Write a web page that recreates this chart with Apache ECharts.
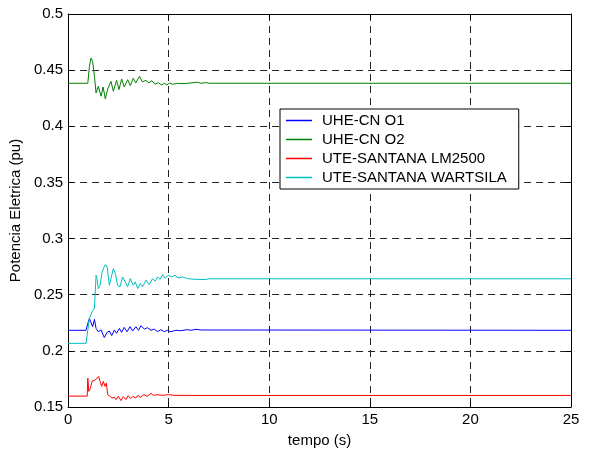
<!DOCTYPE html>
<html><head><meta charset="utf-8">
<script src="https://cdn.jsdelivr.net/npm/echarts@6/dist/echarts.min.js"></script>
<style>html,body{margin:0;padding:0;background:#fff}#c{width:589px;height:453px}</style>
</head><body><div id="c"></div>
<script>
var seriesNames = ['UHE-CN O1', 'UHE-CN O2', 'UTE-SANTANA LM2500', 'UTE-SANTANA WARTSILA'];
var xTicks = [0, 5, 10, 15, 20, 25];
var yTicks = [0.15, 0.2, 0.25, 0.3, 0.35, 0.4, 0.45, 0.5];

var tBlue = [0, 0.89, 0.98, 1.06, 1.14, 1.22, 1.31, 1.39, 1.5, 1.64, 1.8, 1.94, 2.05, 2.17, 2.3, 2.41, 2.55, 2.66, 2.79, 2.93, 3.08, 3.21, 3.37, 3.5, 3.62, 3.79, 3.95, 4.12, 4.28, 4.45, 4.61, 4.78, 4.94, 5.11, 5.36, 5.6, 5.94, 6.1, 6.35, 6.6, 25];
var vBlue = [0.2183, 0.2183, 0.2244, 0.2289, 0.2280, 0.2215, 0.2280, 0.2200, 0.2171, 0.2186, 0.2118, 0.2165, 0.2177, 0.2136, 0.2186, 0.2156, 0.2200, 0.2165, 0.2209, 0.2171, 0.2215, 0.2177, 0.2215, 0.2183, 0.2224, 0.2194, 0.2206, 0.2183, 0.2194, 0.2171, 0.2189, 0.2171, 0.2183, 0.2171, 0.2183, 0.2180, 0.2189, 0.2183, 0.2192, 0.2186, 0.2183];

var tGreen = [0, 0.98, 1.06, 1.14, 1.22, 1.31, 1.39, 1.5, 1.64, 1.74, 1.85, 1.97, 2.13, 2.25, 2.41, 2.53, 2.66, 2.79, 2.96, 3.09, 3.24, 3.36, 3.55, 3.69, 3.87, 4.02, 4.17, 4.32, 4.48, 4.65, 4.78, 4.91, 5.04, 5.19, 5.44, 5.77, 6.43, 6.6, 6.85, 7.0, 25];
var vGreen = [0.4383, 0.4383, 0.4533, 0.4607, 0.4578, 0.4445, 0.4297, 0.4356, 0.4268, 0.4350, 0.4244, 0.4333, 0.4400, 0.4312, 0.4409, 0.4327, 0.4421, 0.4350, 0.4415, 0.4362, 0.4427, 0.4386, 0.4445, 0.4395, 0.4409, 0.4386, 0.4406, 0.4374, 0.4389, 0.4368, 0.4383, 0.4368, 0.4386, 0.4374, 0.4383, 0.4380, 0.4392, 0.4383, 0.4389, 0.4383, 0.4383];

var tRed = [0, 0.95, 0.98, 1.03, 1.11, 1.19, 1.27, 1.36, 1.44, 1.52, 1.59, 1.67, 1.75, 1.84, 1.9, 1.97, 2.08, 2.18, 2.3, 2.38, 2.5, 2.63, 2.74, 2.88, 2.99, 3.11, 3.22, 3.36, 3.47, 3.6, 3.77, 3.93, 4.12, 4.23, 4.45, 4.7, 4.98, 5.27, 6.0, 25];
var vRed = [0.1597, 0.1597, 0.1757, 0.1639, 0.1668, 0.1728, 0.1713, 0.1742, 0.1728, 0.1772, 0.1728, 0.1683, 0.1728, 0.1683, 0.1713, 0.1610, 0.1595, 0.1580, 0.1586, 0.1566, 0.1595, 0.1557, 0.1592, 0.1566, 0.1601, 0.1575, 0.1595, 0.1580, 0.1604, 0.1586, 0.1610, 0.1595, 0.1622, 0.1604, 0.1610, 0.1604, 0.1610, 0.1604, 0.1603, 0.1603];

var tCyan = [0, 0.89, 1.06, 1.2, 1.31, 1.39, 1.44, 1.5, 1.59, 1.69, 1.84, 1.94, 2.05, 2.13, 2.25, 2.35, 2.46, 2.58, 2.71, 2.84, 2.96, 3.09, 3.24, 3.34, 3.46, 3.59, 3.7, 3.87, 4.03, 4.2, 4.32, 4.45, 4.58, 4.7, 4.81, 4.98, 5.14, 5.31, 5.47, 5.69, 5.94, 6.35, 6.85, 7.0, 25];
var vCyan = [0.2067, 0.2067, 0.2289, 0.2350, 0.2377, 0.2673, 0.2643, 0.2555, 0.2584, 0.2702, 0.2767, 0.2755, 0.2584, 0.2570, 0.2732, 0.2688, 0.2584, 0.2570, 0.2658, 0.2614, 0.2570, 0.2643, 0.2584, 0.2614, 0.2555, 0.2599, 0.2570, 0.2629, 0.2590, 0.2643, 0.2620, 0.2658, 0.2637, 0.2679, 0.2649, 0.2673, 0.2658, 0.2673, 0.2649, 0.2658, 0.2643, 0.2637, 0.2635, 0.2642, 0.2642];

function pairs(t, v) { return t.map(function (x, i) { return [x, v[i]]; }); }

var colors = ['#0000ff', '#008000', '#ff0000', '#00bfbf'];
var font = 'Liberation Sans, Arial, sans-serif';

var chart = echarts.init(document.getElementById('c'), null, {renderer: 'canvas'});
var gridLine = {show: true, lineStyle: {color: '#222', type: [7, 5], width: 1}};
var axisLineS = {show: true, onZero: false, lineStyle: {color: '#000', width: 1}};
var tickS = {show: true, inside: true, length: 5, lineStyle: {color: '#000'}};
chart.setOption({
  animation: false,
  backgroundColor: '#fff',
  textStyle: {fontFamily: font},
  grid: {left: 67, right: 18, top: 14, bottom: 44, show: false},
  legend: {
    data: seriesNames.map(function (n, i) {
      return {name: n, icon: 'rect', itemStyle: {color: colors[i], borderWidth: 0, borderColor: colors[i]}};
    }),
    orient: 'vertical', left: 280, top: 109,
    backgroundColor: '#fff', borderColor: '#000', borderWidth: 1, borderRadius: 0,
    padding: [4, 12, 4, 6], itemGap: 4, itemWidth: 26, itemHeight: 1.5,
    itemStyle: {borderWidth: 0},
    lineStyle: {width: 0},
    textStyle: {fontFamily: font, fontSize: 15, color: '#000', padding: [0, 0, 0, 5]}
  },
  xAxis: [{
    type: 'value', min: xTicks[0], max: xTicks[xTicks.length - 1], interval: 5,
    name: 'tempo (s)', nameLocation: 'middle', nameGap: 26,
    nameTextStyle: {fontFamily: font, fontSize: 15, color: '#000'},
    axisLine: axisLineS, axisTick: tickS, splitLine: gridLine,
    axisLabel: {fontFamily: font, fontSize: 15, color: '#000', margin: 5}
  }, {
    type: 'value', position: 'top', min: 0, max: 25, interval: 5,
    axisLine: axisLineS, axisTick: tickS, splitLine: {show: false}, axisLabel: {show: false}
  }],
  yAxis: [{
    type: 'value', min: yTicks[0], max: yTicks[yTicks.length - 1], interval: 0.05,
    name: 'Potencia Eletrica (pu)', nameLocation: 'middle', nameGap: 39, nameRotate: 90,
    nameTextStyle: {fontFamily: font, fontSize: 15, color: '#000'},
    axisLine: axisLineS, axisTick: tickS, splitLine: gridLine,
    axisLabel: {fontFamily: font, fontSize: 15, color: '#000', margin: 5,
      formatter: function (v) { return String(+v.toFixed(2)); }}
  }, {
    type: 'value', position: 'right', min: 0.15, max: 0.5, interval: 0.05,
    axisLine: axisLineS, axisTick: tickS, splitLine: {show: false}, axisLabel: {show: false}
  }],
  series: [
    {name: seriesNames[0], type: 'line', data: pairs(tBlue, vBlue)},
    {name: seriesNames[1], type: 'line', data: pairs(tGreen, vGreen)},
    {name: seriesNames[2], type: 'line', data: pairs(tRed, vRed)},
    {name: seriesNames[3], type: 'line', data: pairs(tCyan, vCyan)}
  ].map(function (s, i) {
    s.showSymbol = false; s.symbol = 'none'; s.color = colors[i];
    s.itemStyle = {color: colors[i]};
    s.lineStyle = {width: 1, color: colors[i]}; s.z = 3;
    return s;
  })
});
</script></body></html>
